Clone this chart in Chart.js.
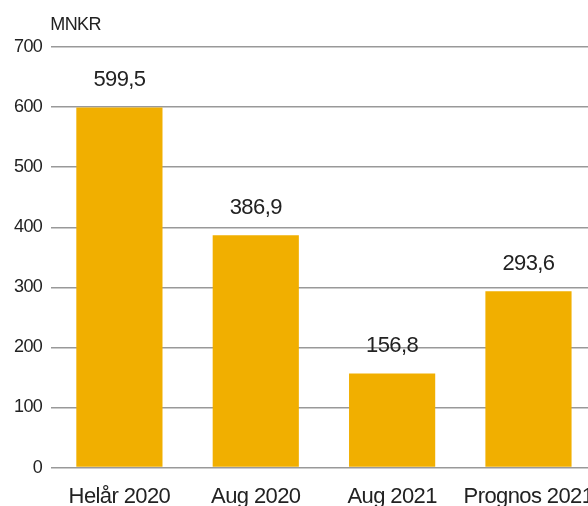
<!DOCTYPE html>
<html>
<head>
<meta charset="utf-8">
<script src="https://cdn.jsdelivr.net/npm/chart.js@4"></script>
<style>
  html, body { margin: 0; padding: 0; background: #fff; overflow: hidden; }
  #wrap { width: 588px; height: 506px; overflow: hidden; }
</style>
</head>
<body>
<div id="wrap"><canvas id="chart" width="610" height="506"></canvas></div>
<script>
// data
const categories = ['Helår 2020', 'Aug 2020', 'Aug 2021', 'Prognos 2021'];
const values = [599.5, 386.9, 156.8, 293.6];
const yTicks = [0, 100, 200, 300, 400, 500, 600, 700];
const unitLabel = 'MNKR';

const FONT = '"Liberation Sans", Arial, Helvetica, sans-serif';

// value labels above the bars + unit label top left
const labelPlugin = {
  id: 'labels',
  beforeUpdate(chart) {
    chart.ctx.letterSpacing = '-0.6px';
  },
  afterDatasetsDraw(chart) {
    const ctx = chart.ctx;
    ctx.save();
    ctx.fillStyle = '#222';
    ctx.font = '22px ' + FONT;
    ctx.textAlign = 'center';
    ctx.textBaseline = 'bottom';
    chart.getDatasetMeta(0).data.forEach(function(bar, i) {
      ctx.fillText(values[i].toFixed(1).replace('.', ','), bar.x, bar.y - 16);
    });
    ctx.font = '18px ' + FONT;
    ctx.textAlign = 'left';
    ctx.textBaseline = 'alphabetic';
    ctx.fillText(unitLabel, chart.chartArea.left - 1, 30);
    ctx.restore();
  }
};

new Chart(document.getElementById('chart').getContext('2d'), {
  type: 'bar',
  data: {
    labels: categories,
    datasets: [{
      data: values,
      backgroundColor: '#F1AF00',
      borderWidth: 0,
      categoryPercentage: 1,
      barPercentage: 0.632
    }]
  },
  options: {
    responsive: false,
    animation: false,
    layout: { padding: { top: 47, left: 5, right: 5, bottom: -20 } },
    plugins: { legend: { display: false }, tooltip: { enabled: false } },
    scales: {
      x: {
        grid: { display: false, drawTicks: false },
        border: { display: false },
        ticks: { color: '#222', font: { family: FONT, size: 22 }, padding: 16, maxRotation: 0 }
      },
      y: {
        min: 0,
        max: 700,
        afterBuildTicks(axis) { axis.ticks = yTicks.map(v => ({ value: v })); },
        grid: { color: '#999', lineWidth: 1.5, drawTicks: false },
        border: { display: false },
        ticks: { color: '#222', font: { family: FONT, size: 18 }, padding: 9 }
      }
    }
  },
  plugins: [labelPlugin]
});
</script>
</body>
</html>
